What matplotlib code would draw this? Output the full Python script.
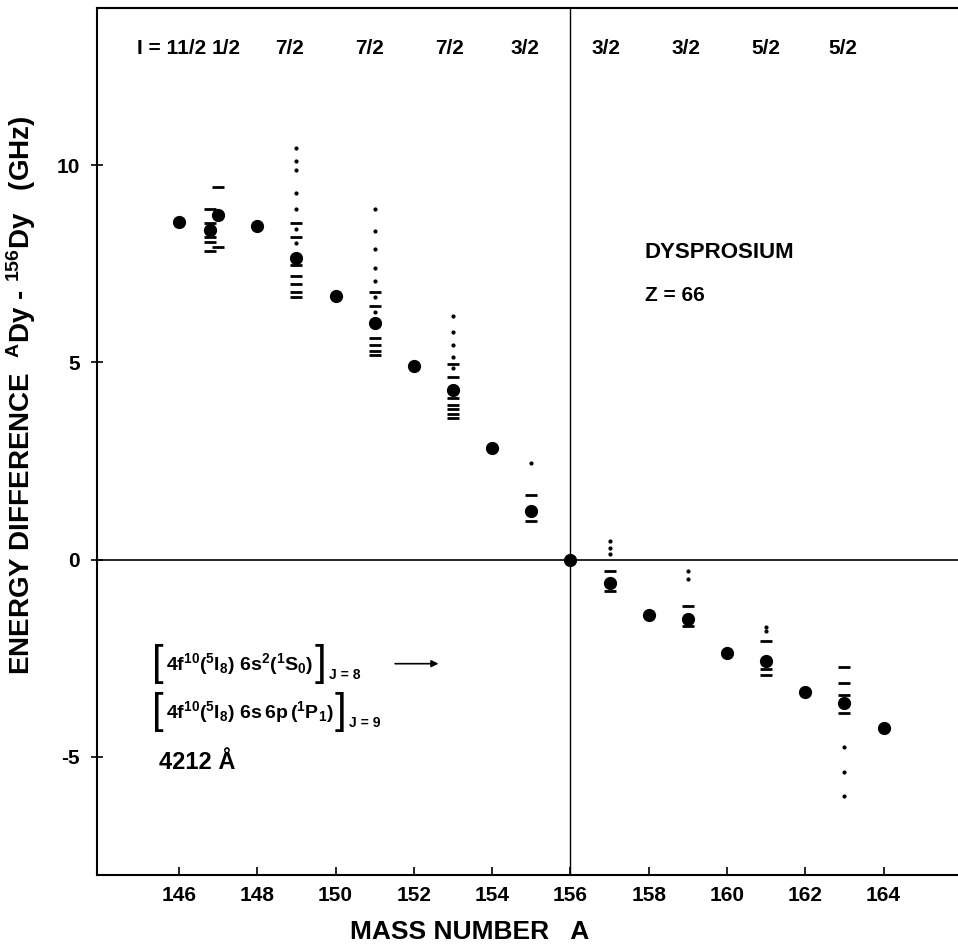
import matplotlib
matplotlib.use("Agg")
import matplotlib.pyplot as plt

# even isotopes and hfs centroids of odd isotopes (GHz, relative to 156Dy)
mass = [146, 147, 148, 149, 150, 151, 152, 153, 154, 155, 156,
        157, 158, 159, 160, 161, 162, 163, 164]
shift = [8.55, 8.75, 8.45, 7.66, 6.68, 5.99, 4.90, 4.29, 2.84, 1.24, 0.0,
         -0.60, -1.40, -1.50, -2.36, -2.56, -3.35, -3.63, -4.26]

# 147m (I = 11/2) drawn just left of 147
mass_147m = 146.8
shift_147m = 8.35

# hyperfine components: strong (dashes) and weak (dots)
hfs_mass = [146.8, 147, 149, 151, 153, 155, 157, 159, 161, 163]
hfs_strong = [
    [8.88, 8.53, 8.17, 8.05, 7.82],
    [9.44, 7.92],
    [8.53, 8.18, 7.46, 7.20, 7.00, 6.78, 6.65],
    [6.78, 6.42, 5.61, 5.43, 5.30, 5.18],
    [4.97, 4.62, 4.11, 3.93, 3.83, 3.70, 3.60],
    [1.65, 0.99],
    [-0.30, -0.79],
    [-1.17, -1.68],
    [-2.06, -2.77, -2.92],
    [-2.72, -3.12, -3.43, -3.88],
]
hfs_weak = [
    [],
    [],
    [10.45, 10.1, 9.87, 9.31, 8.88, 8.38, 8.02],
    [8.90, 8.33, 7.87, 7.39, 7.06, 6.65, 6.29],
    [6.17, 5.76, 5.45, 5.13, 4.85],
    [2.44],
    [0.48, 0.30, 0.13],
    [-0.28, -0.48],
    [-1.72, -1.80],
    [-4.75, -5.38, -6.00],
]

# nuclear spins written above the points
spin_x = [145.82, 147.2, 148.83, 150.87, 152.9, 154.85, 156.9, 158.96, 161.0, 162.96]
spin_lbl = ["I = 11/2", "1/2", "7/2", "7/2", "7/2", "3/2", "3/2", "3/2", "5/2", "5/2"]

# transition configurations
lower_cfg = r"$4f^{10}(^5I_8)\ 6s^2(^1S_0)$"
upper_cfg = r"$4f^{10}(^5I_8)\ 6s\,6p\,(^1P_1)$"
lower_j = "J = 8"
upper_j = "J = 9"

plt.rcParams['font.family'] = ['Liberation Sans', 'DejaVu Sans']
plt.rcParams['font.weight'] = 'bold'
plt.rcParams['axes.unicode_minus'] = False
plt.rcParams['mathtext.fontset'] = 'custom'
plt.rcParams['mathtext.rm'] = 'Liberation Sans:bold'
plt.rcParams['mathtext.bf'] = 'Liberation Sans:bold'
plt.rcParams['mathtext.it'] = 'Liberation Sans:bold'
plt.rcParams['mathtext.default'] = 'regular'

fig = plt.figure(figsize=(9.58, 9.47), dpi=100)
ax = fig.add_axes([0.101, 0.076, 0.899, 0.916])

ax.axhline(0, color='black', lw=1.2, zorder=1)
ax.axvline(156, color='black', lw=1.0, zorder=1)

for xm, ys in zip(hfs_mass, hfs_strong):
    ax.plot([xm] * len(ys), ys, ls='none', marker='_', ms=9, mew=2, color='black')
for xm, ys in zip(hfs_mass, hfs_weak):
    ax.plot([xm] * len(ys), ys, ls='none', marker='o', ms=2, color='black')

ax.plot(mass, shift, ls='none', marker='o', ms=8.5, color='black', zorder=3)
ax.plot([mass_147m], [shift_147m], ls='none', marker='o', ms=8.5, color='black', zorder=3)

ax.set_xlim(143.9, 165.9)
ax.set_ylim(-8, 14)
ax.set_xticks([146, 148, 150, 152, 154, 156, 158, 160, 162, 164])
ax.set_yticks([-5, 0, 5, 10])
ax.tick_params(axis='x', direction='in', length=6, width=1.2, labelsize=15, pad=8)
ax.tick_params(axis='y', direction='inout', length=8, width=1.2, labelsize=15, pad=8)
for lbl in ax.get_xticklabels() + ax.get_yticklabels():
    lbl.set_fontweight('bold')
for sp in ['left', 'top', 'bottom']:
    ax.spines[sp].set_linewidth(1.5)
ax.spines['right'].set_visible(False)

# spin labels
for xs, s in zip(spin_x, spin_lbl):
    ax.text(xs, 12.97, s, ha='center', va='center', fontsize=15, fontweight='bold')

ax.text(157.9, 7.8, "DYSPROSIUM", ha='left', va='center', fontsize=16, fontweight='bold')
ax.text(157.9, 6.7, "Z = 66", ha='left', va='center', fontsize=15, fontweight='bold')


def bracket_line(y, cfg, jlab):
    # [ config ]_J built piece by piece so the brackets can be tall
    b1 = ax.text(145.3, y, "[", ha='left', va='center', fontsize=30, fontweight='normal')
    t = ax.annotate(cfg, xy=(1, 0.5), xycoords=b1, xytext=(2, 0), textcoords='offset points',
                    ha='left', va='center', fontsize=14)
    b2 = ax.annotate("]", xy=(1, 0.5), xycoords=t, xytext=(1, 0), textcoords='offset points',
                     ha='left', va='center', fontsize=30, fontweight='normal')
    ax.annotate(jlab, xy=(1, 0.05), xycoords=b2, xytext=(2, 0), textcoords='offset points',
                ha='left', va='bottom', fontsize=10, fontweight='bold')


bracket_line(-2.66, lower_cfg, lower_j)
bracket_line(-3.86, upper_cfg, upper_j)
ax.annotate("", xy=(152.7, -2.64), xytext=(151.45, -2.64),
            arrowprops=dict(arrowstyle='-|>', color='black', lw=1.2, mutation_scale=10))
ax.text(145.5, -5.15, "4212 Å", ha='left', va='center', fontsize=17, fontweight='bold')

fig.text(0.49, 0.003, "MASS NUMBER   A", ha='center', va='bottom', fontsize=19, fontweight='bold')
fig.text(0.022, 0.583, r"ENERGY DIFFERENCE  $^{A}$Dy - $^{156}$Dy   (GHz)",
         rotation=90, ha='center', va='center', fontsize=20, fontweight='bold')

fig.savefig("out.png", dpi=100)
